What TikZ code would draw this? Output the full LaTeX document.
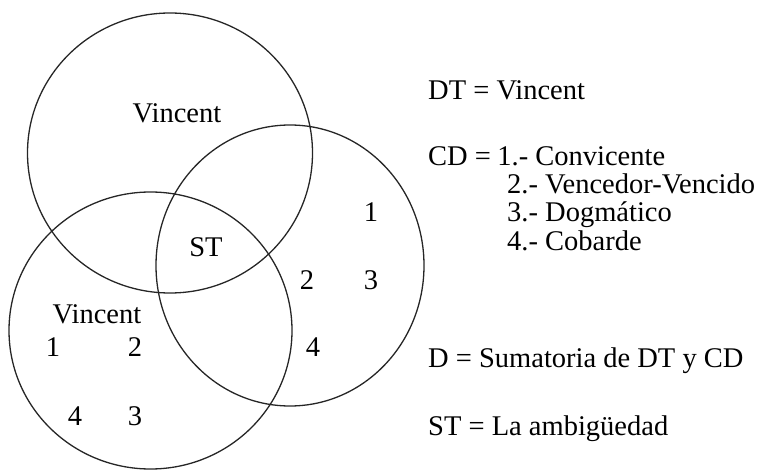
\documentclass[tikz,border=0pt]{standalone}
\usepackage{fontspec}
\setmainfont{Liberation Serif}
\begin{document}
\begin{tikzpicture}[x=1pt,y=-1pt,
  ring/.style={draw=black!85, line width=1.3pt},
  lbl/.style={anchor=base, inner sep=0pt, font=\fontsize{28.5}{32}\selectfont},
  txt/.style={anchor=base west, inner sep=0pt, font=\fontsize{28.5}{32}\selectfont}]
\useasboundingbox (0,0) rectangle (766,470);
\coordinate (cA) at (170,153);
\coordinate (cB) at (150.5,330.5);
\coordinate (cC) at (290,265.5);
\draw[ring] (cA) ellipse [x radius=142.5, y radius=140];
\draw[ring] (cB) ellipse [x radius=141.5, y radius=138.5];
\draw[ring] (cC) ellipse [x radius=134, y radius=140.5];
\node[lbl] (v1) at (177,123) {Vincent};
\node[lbl] (st) at (206,257) {ST};
\node[lbl] (r1) at (371,222) {1};
\node[lbl] (r2) at (307,290) {2};
\node[lbl] (r3) at (371,290) {3};
\node[lbl] (r4) at (313,357) {4};
\node[lbl] (v2) at (97,324) {Vincent};
\node[lbl] (b1) at (53,357) {1};
\node[lbl] (b2) at (135,357) {2};
\node[lbl] (b4) at (75,425) {4};
\node[lbl] (b3) at (135,425) {3};
\node[txt] (dt) at (428,100) {DT = Vincent};
\node[txt] (cd) at (428,166) {CD =};
\node[txt] (i1) at ([xshift=6pt]cd.base east) {1.- Convicente};
\node[txt] (i2) at (507,194) {2.- Vencedor-Vencido};
\node[txt] (i3) at (507,222) {3.- Dogmático};
\node[txt] (i4) at (507,251) {4.- Cobarde};
\node[txt] (d) at (428,368) {D = Sumatoria de DT y CD};
\node[txt] (s) at (428,435) {ST = La ambigüedad};
\end{tikzpicture}
\end{document}
